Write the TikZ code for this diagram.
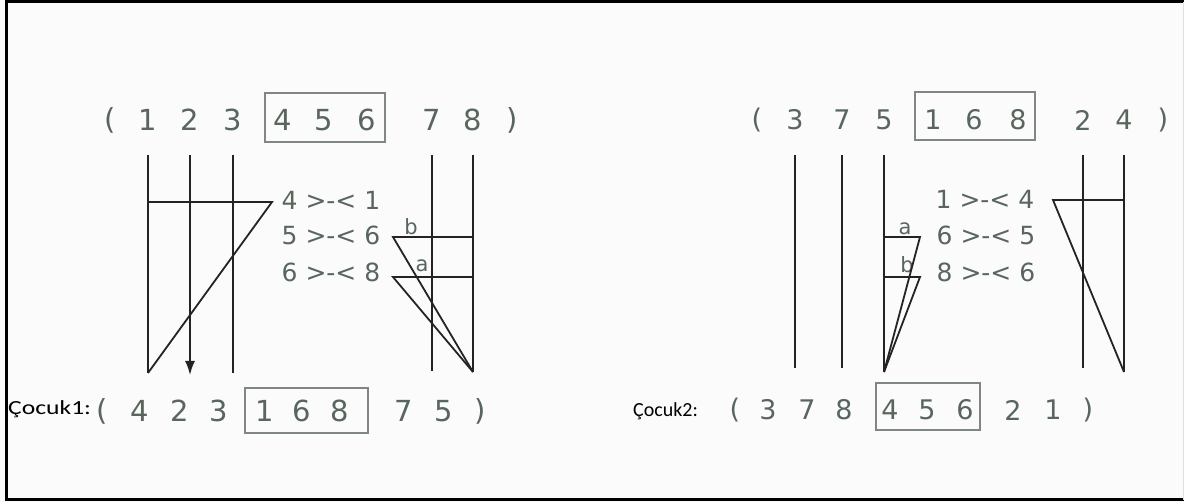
\documentclass[tikz,border=0pt]{standalone}
\usepackage{fontspec}
\setmainfont{DejaVu Sans}
\newfontfamily\cocukwide[FakeStretch=1.28]{Carlito}
\newfontfamily\cocukfont{Carlito}
\usetikzlibrary{arrows.meta, positioning}
\definecolor{gengray}{RGB}{88,102,94}
\definecolor{boxgray}{RGB}{128,134,134}
\definecolor{linegray}{RGB}{35,35,35}

\tikzset{
  gene/.style={text=gengray, font=\fontsize{29}{29}\selectfont, inner sep=0pt},
  geneb/.style={text=gengray, font=\fontsize{27}{27}\selectfont, inner sep=0pt},
  swaplabel/.style={text=gengray, font=\fontsize{25}{25}\selectfont, inner sep=0pt},
  marklabel/.style={text=gengray, font=\fontsize{21}{21}\selectfont, inner sep=0pt},
  cutbox/.style={draw=boxgray, line width=1.6pt},
  strand/.style={draw=linegray, line width=1.8pt},
}

\begin{document}
\begin{tikzpicture}[x=1pt, y=-1pt]
		% Fond et cadre
		\fill[black!1.5] (0,0) rectangle (1184,502);
		\useasboundingbox (0,0) rectangle (1184,502);
		\draw[line width=3pt] (1184,2) -- (6,2) -- (6,500) -- (1184,500);
		\draw[black!12, line width=1pt] (1183,2) -- (1183,500);
		
		% Parent 1
		\node[gene] (paL) at (110,120) {(};
		\node[gene] (pa1) at (148,120) {1};
		\node[gene] (pa2) at (190,120) {2};
		\node[gene] (pa3) at (233,120) {3};
		\node[gene] (pa4) at (283,120) {4};
		\node[gene] (pa5) at (324,120) {5};
		\node[gene] (pa6) at (367,120) {6};
		\node[gene] (pa7) at (432,120) {7};
		\node[gene] (pa8) at (473,120) {8};
		\node[gene] (paR) at (512,120) {)};
		\draw[cutbox] (265,93) rectangle (385,142);
		
		% Enfant 1
		\node[font=\cocukwide\fontsize{20}{20}\selectfont, anchor=west, inner sep=0pt] (lab1) at (8,409) {Çocuk1:};
		\node[gene] (caL) at (102,411) {(};
		\node[gene] (ca1) at (140,411) {4};
		\node[gene] (ca2) at (180,411) {2};
		\node[gene] (ca3) at (219,411) {3};
		\node[gene] (ca4) at (265,411) {1};
		\node[gene] (ca5) at (302,411) {6};
		\node[gene] (ca6) at (340,411) {8};
		\node[gene] (ca7) at (404,411) {7};
		\node[gene] (ca8) at (444,411) {5};
		\node[gene] (caR) at (480,411) {)};
		\draw[cutbox] (245,388) rectangle (368,433);
		
		% Echanges 1
		\node[swaplabel] (sw1) at (331,200) {4 >-< 1};
		\node[swaplabel] (sw2) at (331,235) {5 >-< 6};
		\node[swaplabel] (sw3) at (331,272) {6 >-< 8};
		\node[marklabel] (mb1) at (411,227) {b};
		\node[marklabel] (ma1) at (422,266) {a};
		
		\coordinate (x1) at (272,202);
		\coordinate (x2) at (393,237);
		\coordinate (x3) at (393,277);
		\coordinate (e1) at (148,373);
		\coordinate (e2) at (473,372);
		
		\draw[strand] (pa1) ++(0,35) -- (e1);
		\draw[strand, -{Latex[length=14pt,width=10pt]}] (pa2) ++(0,35) -- ++(0,220);
		\draw[strand] (pa3) ++(0,35) -- ++(0,218);
		\draw[strand] (pa7) ++(0,35) -- ++(0,216);
		\draw[strand] (pa8) ++(0,35) -- (e2);
		\draw[strand] (e1 |- x1) -- (x1) -- (e1);
		\draw[strand] (e2 |- x2) -- (x2) -- (e2);
		\draw[strand] (e2 |- x3) -- (x3) -- (e2);
		
		% Parent 2
		\node[geneb] (pbL) at (757,120) {(};
		\node[geneb] (pb1) at (795,120) {3};
		\node[geneb] (pb2) at (842,120) {7};
		\node[geneb] (pb3) at (884,120) {5};
		\node[geneb] (pb4) at (933,120) {1};
		\node[geneb] (pb5) at (974,120) {6};
		\node[geneb] (pb6) at (1018,120) {8};
		\node[geneb] (pb7) at (1083,120) {2};
		\node[geneb] (pb8) at (1124,120) {4};
		\node[geneb] (pbR) at (1163,120) {)};
		\draw[cutbox] (915,92) rectangle (1035,140);
		
		% Enfant 2
		\node[font=\cocukfont\fontsize{20}{20}\selectfont, anchor=west, inner sep=0pt] (lab2) at (633,411) {Çocuk2:};
		\node[geneb] (cbL) at (735,410) {(};
		\node[geneb] (cb1) at (768,410) {3};
		\node[geneb] (cb2) at (807,410) {7};
		\node[geneb] (cb3) at (844,410) {8};
		\node[geneb] (cb4) at (890,410) {4};
		\node[geneb] (cb5) at (927,410) {5};
		\node[geneb] (cb6) at (965,410) {6};
		\node[geneb] (cb7) at (1013,410) {2};
		\node[geneb] (cb8) at (1053,410) {1};
		\node[geneb] (cbR) at (1088,410) {)};
		\draw[cutbox] (876,383) rectangle (980,430);
		
		% Echanges 2
		\node[swaplabel] (sw4) at (985,199) {1 >-< 4};
		\node[swaplabel] (sw5) at (986,235) {6 >-< 5};
		\node[swaplabel] (sw6) at (986,272) {8 >-< 6};
		\node[marklabel] (ma2) at (905,229) {a};
		\node[marklabel] (mb2) at (907,265) {b};
		
		\coordinate (y1) at (1053,200);
		\coordinate (y2) at (920,237);
		\coordinate (y3) at (920,277);
		\coordinate (f1) at (884,372);
		\coordinate (f2) at (1124,372);
		
		\draw[strand] (pb1) ++(0,35) -- ++(0,213);
		\draw[strand] (pb2) ++(0,35) -- ++(0,213);
		\draw[strand] (pb3) ++(0,35) -- (f1);
		\draw[strand] (pb7) ++(0,35) -- ++(0,213);
		\draw[strand] (pb8) ++(0,35) -- (f2);
		\draw[strand] (f2 |- y1) -- (y1) -- (f2);
		\draw[strand] (f1 |- y2) -- (y2) -- (f1);
		\draw[strand] (f1 |- y3) -- (y3) -- (f1);
	\end{tikzpicture}
\end{document}
